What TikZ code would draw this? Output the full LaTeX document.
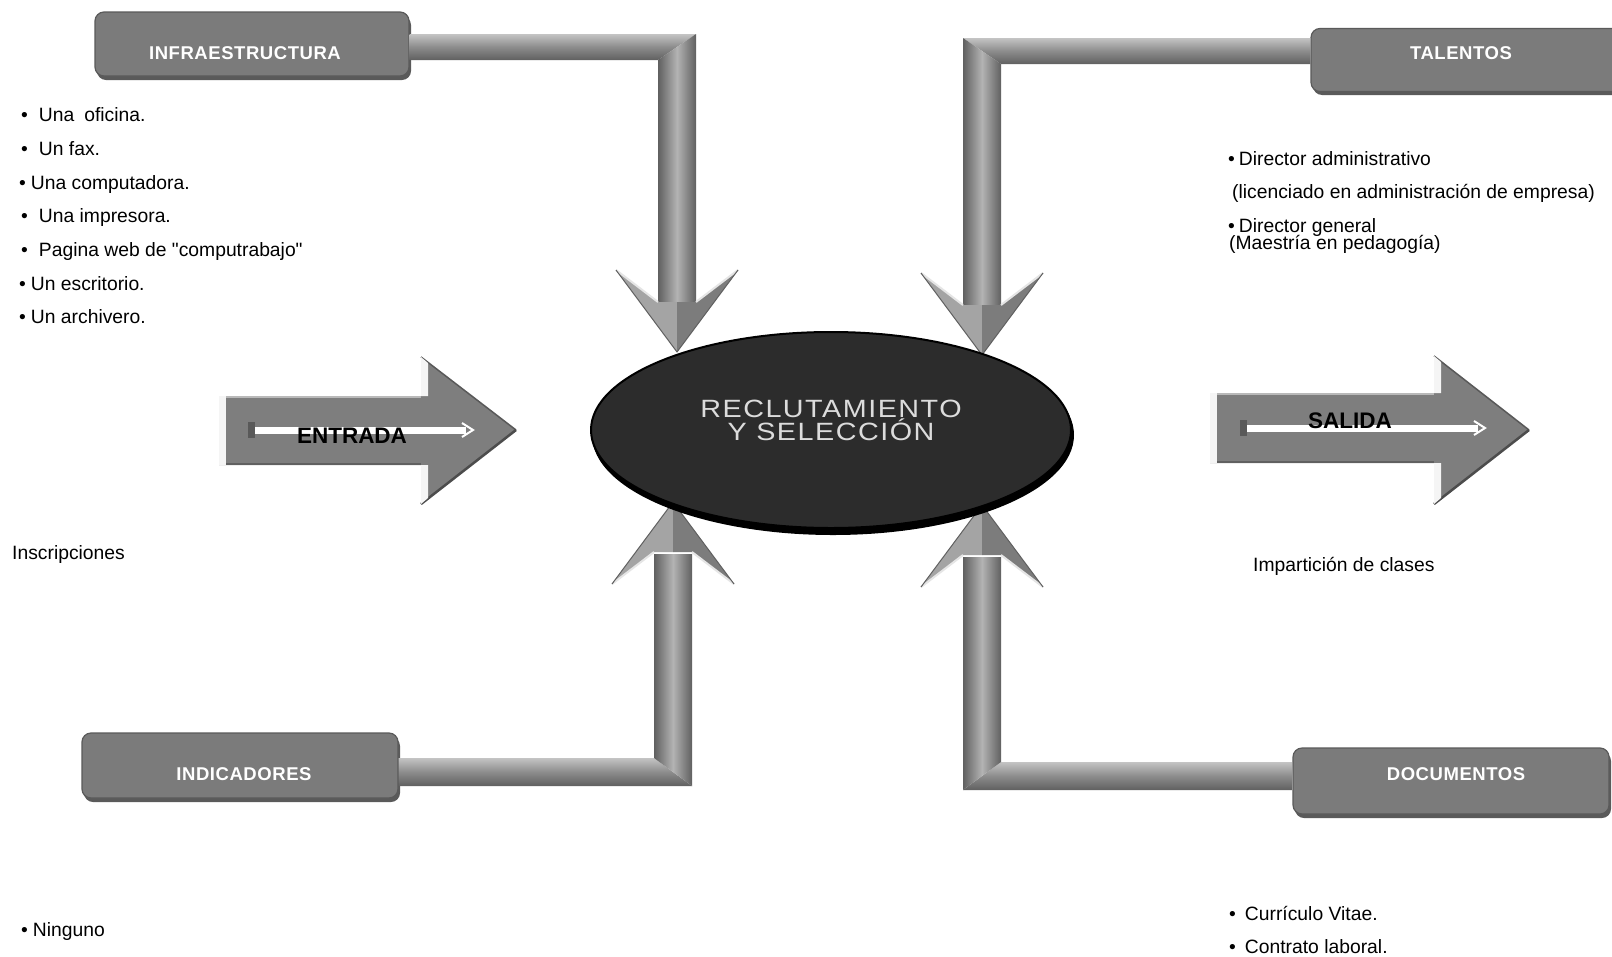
\documentclass[tikz,border=0pt]{standalone}
\usepackage{fontspec}
\setmainfont{Liberation Sans}
\newfontfamily\rawfont[Ligatures=TeXOff]{Liberation Sans}
\newfontfamily\tagfont[LetterSpace=3]{Liberation Sans}
\newfontfamily\corefont[LetterSpace=6, FakeStretch=1.15]{Liberation Sans}
\usetikzlibrary{shapes.geometric,calc}

\definecolor{boxgray}{HTML}{7B7B7B}
\definecolor{boxrim}{HTML}{5A5A5A}
\definecolor{barlight}{HTML}{C4C4C4}
\definecolor{barmid}{HTML}{8C8C8C}
\definecolor{bardark}{HTML}{606060}
\definecolor{headlight}{HTML}{A4A4A4}
\definecolor{headdark}{HTML}{7C7C7C}
\definecolor{blockgray}{HTML}{7E7E7E}
\definecolor{corefill}{HTML}{2C2C2C}
\definecolor{coretext}{HTML}{DCDCDC}

\newcommand\dq{{\rawfont"}}

\tikzset{
  tagbox/.style={rectangle, rounded corners=9pt, fill=boxgray, draw=boxrim,
    line width=1.2pt, minimum width=314pt, minimum height=64pt, inner sep=0pt},
  tagshadow/.style={fill=boxrim, rounded corners=9pt},
  tagtext/.style={text=white, inner sep=0pt,
    font=\tagfont\bfseries\fontsize{18.5}{22}\selectfont},
  txt/.style={anchor=base west, inner sep=0pt, font=\fontsize{19.3}{23}\selectfont},
  blocktext/.style={inner sep=0pt, font=\bfseries\fontsize{22.5}{26}\selectfont},
  core/.style={ellipse, minimum width=480pt, minimum height=196pt, fill=corefill,
    draw=black, line width=2pt, inner sep=0pt},
  coretxt/.style={text=coretext, align=center, inner sep=0pt,
    font=\corefont\fontsize{25}{23}\selectfont},
  hbar/.style={top color=barlight, bottom color=bardark, middle color=barmid},
  vbar/.style={left color=bardark, right color=bardark, middle color=barlight!70!barmid},
  blockbody/.style={fill=blockgray},
  chevron/.pic={
    \fill[headlight] (0,0) -- (-61,-82) -- (-19,-50) -- (0,-50) -- cycle;
    \fill[headdark] (0,0) -- (61,-82) -- (19,-50) -- (0,-50) -- cycle;
    \draw[white!80!gray, line width=2pt] (-61,-82) -- (-19,-50);
    \draw[white!80!gray, line width=2pt] (61,-82) -- (19,-50);
    \draw[bardark, line width=1pt, line join=round] (-61,-82) -- (0,0) -- (61,-82);
  }
}

\begin{document}
\begin{tikzpicture}[x=1pt, y=-1pt]
\useasboundingbox (0,0) rectangle (1612,956);
\fill[white] (0,0) rectangle (1612,956);
\clip (0,0) rectangle (1612,956);

% ---------- corner tags ----------
\fill[tagshadow] (97,16) rectangle (411,80);
\node[tagbox] (infra) at (252,44) {};
\node[tagtext] (infraL) at (245,53.5) {INFRAESTRUCTURA};

\fill[tagshadow] (1313,32) rectangle (1627,95);
\node[tagbox, minimum height=63pt] (talentos) at (1468,60) {};
\node[tagtext] (talentosL) at (1461,53.5) {TALENTOS};

\fill[tagshadow] (84,737) rectangle (400,802);
\node[tagbox, minimum width=316pt, minimum height=65pt] (indica) at (240,765.5) {};
\node[tagtext] (indicaL) at (244,774) {INDICADORES};

\fill[tagshadow] (1295,752) rectangle (1611,818);
\node[tagbox, minimum width=316pt, minimum height=66pt] (docs) at (1451,781) {};
\node[tagtext] (docsL) at (1456,774) {DOCUMENTOS};

% ---------- bent connectors into the centre (mitred corners) ----------
% top left
\coordinate (tlc) at (677,47);
\coordinate (tln) at (677,302);
\coordinate (tlt) at (677,352);
\coordinate (tlh) at (infra.east |- tlc);
\shade[hbar] ($(tlh)+(0,-13)$) -- ($(tlc)+(19,-13)$) -- ($(tlc)+(-19,13)$) -- ($(tlh)+(0,13)$) -- cycle;
\shade[vbar] ($(tlc)+(-19,13)$) -- ($(tlc)+(19,-13)$) -- ($(tln)+(19,0)$) -- ($(tln)+(-19,0)$) -- cycle;
\pic at (tlt) {chevron};

% top right
\coordinate (trc) at (982,51);
\coordinate (trn) at (982,305);
\coordinate (trt) at (982,355);
\coordinate (trh) at (talentos.west |- trc);
\shade[hbar] ($(trh)+(0,-13)$) -- ($(trc)+(-19,-13)$) -- ($(trc)+(19,13)$) -- ($(trh)+(0,13)$) -- cycle;
\shade[vbar] ($(trc)+(-19,-13)$) -- ($(trc)+(19,13)$) -- ($(trn)+(19,0)$) -- ($(trn)+(-19,0)$) -- cycle;
\pic at (trt) {chevron};

% bottom left
\coordinate (blc) at (673,772);
\coordinate (bln) at (673,554);
\coordinate (blt) at (673,502);
\coordinate (blh) at (indica.east |- blc);
\shade[hbar] ($(blh)+(0,-14)$) -- ($(blc)+(-19,-14)$) -- ($(blc)+(19,14)$) -- ($(blh)+(0,14)$) -- cycle;
\shade[vbar] ($(blc)+(-19,-14)$) -- ($(blc)+(19,14)$) -- ($(bln)+(19,0)$) -- ($(bln)+(-19,0)$) -- cycle;
\pic[yscale=-1] at (blt) {chevron};

% bottom right
\coordinate (brc) at (982,776);
\coordinate (brn) at (982,557);
\coordinate (brt) at (982,505);
\coordinate (brh) at (docs.west |- brc);
\shade[hbar] ($(brh)+(0,-14)$) -- ($(brc)+(19,-14)$) -- ($(brc)+(-19,14)$) -- ($(brh)+(0,14)$) -- cycle;
\shade[vbar] ($(brc)+(-19,14)$) -- ($(brc)+(19,-14)$) -- ($(brn)+(19,0)$) -- ($(brn)+(-19,0)$) -- cycle;
\pic[yscale=-1] at (brt) {chevron};

% ---------- centre ellipse ----------
\fill[black] (833,435) ellipse [x radius=241pt, y radius=100pt];
\node[core] (core) at (831,430) {};
\node[coretxt] (coreL) at (831,420.5) {RECLUTAMIENTO\\Y SELECCIÓN};

% ---------- block arrows ----------
% entrada
\fill[blockbody] (219,396) -- (421,396) -- (421,357) -- (516,430) -- (421,504)
  -- (421,465) -- (219,465) -- cycle;
\draw[gray!55, line width=2pt] (219,397) -- (421,397);
\draw[bardark, line width=2pt] (219,464) -- (421,464);
\draw[gray!70!black, line width=1.5pt] (421,357) -- (516,430);
\draw[black!70, line width=2.5pt] (516,430) -- (421,504);
\fill[white!92!gray] (219,396) rectangle (226,465);
\fill[white!92!gray] (421,357) -- (428,363) -- (428,396) -- (421,396) -- cycle;
\fill[white!92!gray] (421,465) -- (428,465) -- (428,498) -- (421,504) -- cycle;
\fill[black!65] (248,422) rectangle (255,438);
\draw[white, line width=7pt] (255,430) -- (466,430);
\draw[white, line width=2pt] (462,423) -- (473,430) -- (462,437);
\node[blocktext] (entrada) at (352,436) {ENTRADA};

% salida
\fill[blockbody] (1210,393) -- (1434,393) -- (1434,356) -- (1529,430) -- (1434,504)
  -- (1434,463) -- (1210,463) -- cycle;
\draw[gray!55, line width=2pt] (1210,394) -- (1434,394);
\draw[bardark, line width=2pt] (1210,462) -- (1434,462);
\draw[gray!70!black, line width=1.5pt] (1434,356) -- (1529,430);
\draw[black!70, line width=2.5pt] (1529,430) -- (1434,504);
\fill[white!92!gray] (1210,393) rectangle (1217,463);
\fill[white!92!gray] (1434,356) -- (1441,362) -- (1441,393) -- (1434,393) -- cycle;
\fill[white!92!gray] (1434,463) -- (1441,463) -- (1441,498) -- (1434,504) -- cycle;
\fill[black!65] (1240,420) rectangle (1247,436);
\draw[white, line width=7pt] (1247,428) -- (1478,428);
\draw[white, line width=2pt] (1474,421) -- (1485,428) -- (1474,435);
\node[blocktext] (salida) at (1350,421) {SALIDA};

% ---------- text lists ----------
\node[txt] (i1) at (21,121) {•\hspace{11pt}Una\hspace{10pt}oficina.};
\node[txt] (i2) at (21,155) {•\hspace{11pt}Un fax.};
\node[txt] (i3) at (19,189) {•\hspace{5pt}Una computadora.};
\node[txt] (i4) at (21,222) {•\hspace{11pt}Una impresora.};
\node[txt] (i5) at (21,256) {•\hspace{11pt}Pagina web de \dq computrabajo\dq};
\node[txt] (i6) at (19,290) {•\hspace{5pt}Un escritorio.};
\node[txt] (i7) at (19,323) {•\hspace{5pt}Un archivero.};

\node[txt] (insc) at (12,559) {Inscripciones};
\node[txt] (ning) at (21,936) {•\hspace{5pt}Ninguno};

\node[txt] (t1) at (1228,165) {•\hspace{4pt}Director administrativo};
\node[txt] (t2) at (1232,198) {(licenciado en administración de empresa)};
\node[txt] (t3) at (1228,232) {•\hspace{4pt}Director general};
\node[txt] (t4) at (1229,249) {(Maestría en pedagogía)};

\node[txt] (clases) at (1253,571) {Impartición de clases};

\node[txt] (d1) at (1229,920) {•\hspace{9pt}Currículo Vitae.};
\node[txt] (d2) at (1229,953) {•\hspace{9pt}Contrato laboral.};
\end{tikzpicture}
\end{document}
